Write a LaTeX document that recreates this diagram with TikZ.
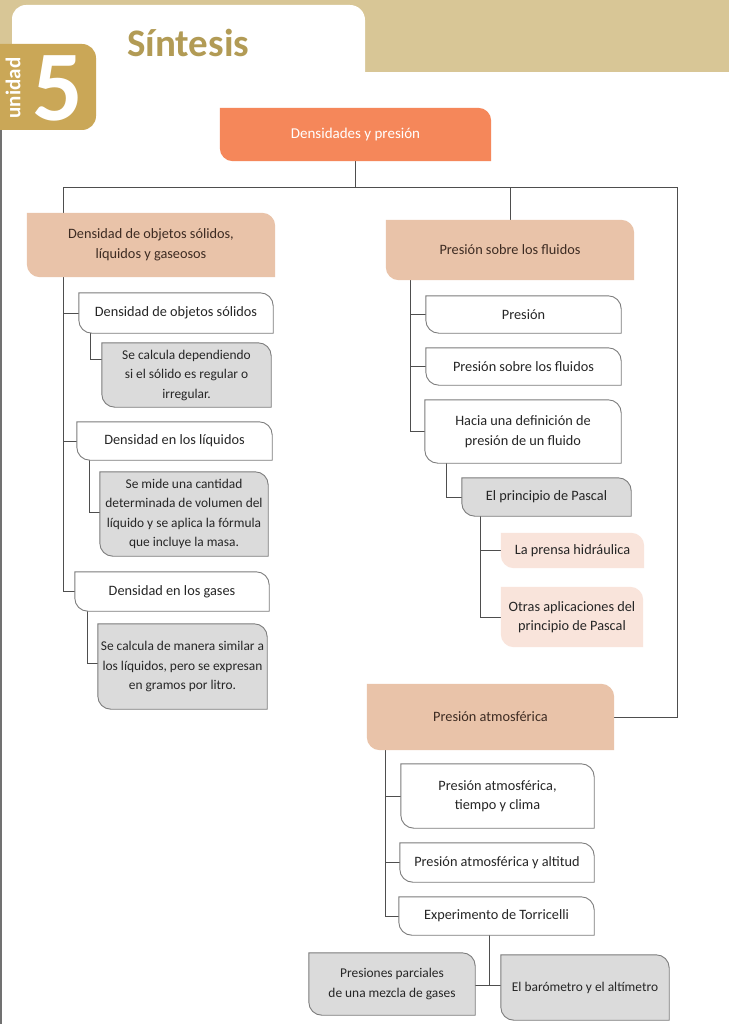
\documentclass[tikz,border=0pt]{standalone}
\usepackage{fontspec}
\setmainfont{Carlito}
\usetikzlibrary{backgrounds}

\definecolor{naranja}{HTML}{F5875A}
\definecolor{melocoton}{HTML}{E9C3A9}
\definecolor{rosado}{HTML}{F9E4DB}
\definecolor{grisfondo}{HTML}{DBDBDB}
\definecolor{borde}{HTML}{7C7C7C}
\definecolor{linea}{HTML}{4E4E4E}
\definecolor{marron}{HTML}{3D2B22}
\definecolor{caqui}{HTML}{D8C696}
\definecolor{dorado}{HTML}{CAA757}
\definecolor{titulo}{HTML}{B29B55}

\newcommand{\rad}{13pt}
% caja: esquinas redondeadas arriba-derecha y abajo-izquierda
\newcommand{\caja}[2]{%
  \path[#1] (#2.north west) -- ([xshift=-\rad]#2.north east)
    arc[start angle=90,end angle=0,radius=\rad] -- (#2.south east)
    -- ([xshift=\rad]#2.south west)
    arc[start angle=270,end angle=180,radius=\rad] -- cycle;}

\tikzset{
  texto/.style={align=center, inner sep=0pt, text=black!85,
    font=\fontsize{14.3}{19.5}\selectfont},
  nota/.style={texto, font=\fontsize{13.4}{19.5}\selectfont},
  conector/.style={draw=linea, line width=0.9pt},
  cajaBlanca/.style={fill=white, draw=borde, line width=0.9pt},
  cajaGris/.style={fill=grisfondo, draw=borde, line width=0.9pt},
  cajaMelocoton/.style={fill=melocoton},
  cajaRosa/.style={fill=rosado},
  cajaNaranja/.style={fill=naranja}
}

\begin{document}
\begin{tikzpicture}[x=1pt,y=1pt]
\useasboundingbox (0,0) rectangle (729,-1024);

% cabecera
\node[text=white, font=\bfseries\fontsize{21}{21}\selectfont, rotate=90] (unidad) at (13,-88) {unidad};
\node[text=white, font=\bfseries\fontsize{100}{100}\selectfont, inner sep=0pt] (cinco) at (58,-88) {5};
\node[text=titulo, font=\bfseries\fontsize{39}{39}\selectfont, anchor=base west, inner sep=0pt] (sintesis) at (127,-57) {Síntesis};

% mapa
\node[texto, text=white, font=\fontsize{15}{18}\selectfont, minimum width=271, minimum height=53] (raiz) at (355.5,-134.5) {Densidades y presión};

\node[texto, text=marron, minimum width=248, minimum height=64] (dens) at (151,-245) {Densidad de objetos sólidos,\\ líquidos y gaseosos};
\node[texto, minimum width=194, minimum height=40] (solidos) at (176,-313) {Densidad de objetos sólidos};
\node[nota, minimum width=169, minimum height=64] (solidosT) at (186.5,-375) {Se calcula dependiendo\\ si el sólido es regular o\\ irregular.};
\node[texto, minimum width=195, minimum height=38] (liquidos) at (174.5,-441) {Densidad en los líquidos};
\node[nota, minimum width=168, minimum height=84] (liquidosT) at (184,-514) {Se mide una cantidad\\ determinada de volumen del\\ líquido y se aplica la fórmula\\ que incluye la masa.};
\node[texto, minimum width=194, minimum height=39] (gases) at (172,-591.5) {Densidad en los gases};
\node[nota, minimum width=169, minimum height=85] (gasesT) at (182.5,-666.5) {Se calcula de manera similar a\\ los líquidos, pero se expresan\\ en gramos por litro.};

\node[texto, text=marron, minimum width=248, minimum height=60] (fluidos) at (510,-250) {Presión sobre los fluidos};
\node[texto, minimum width=195, minimum height=37] (presion) at (523.5,-314.5) {Presión};
\node[texto, minimum width=195, minimum height=37] (sobre) at (523.5,-366.5) {Presión sobre los fluidos};
\node[texto, minimum width=196, minimum height=63] (hacia) at (523,-431.5) {Hacia una definición de\\ presión de un fluido};
\node[texto, minimum width=169, minimum height=38] (pascal) at (546.5,-497) {El principio de Pascal};
\node[texto, minimum width=143, minimum height=35] (prensa) at (572.5,-550.5) {La prensa hidráulica};
\node[texto, minimum width=142, minimum height=60] (otras) at (572,-617) {Otras aplicaciones del\\ principio de Pascal};

\node[texto, text=marron, minimum width=247, minimum height=66] (atm) at (490.5,-717) {Presión atmosférica};
\node[texto, minimum width=193, minimum height=64] (clima) at (497.5,-796) {Presión atmosférica,\\ tiempo y clima};
\node[texto, minimum width=194, minimum height=39] (altitud) at (497,-862.5) {Presión atmosférica y altitud};
\node[texto, minimum width=195, minimum height=38] (torri) at (496.5,-916) {Experimento de Torricelli};
\node[nota, minimum width=166, minimum height=62] (parciales) at (392,-984) {Presiones parciales\\ de una mezcla de gases};
\node[nota, minimum width=168, minimum height=65] (barometro) at (585,-987.5) {El barómetro y el altímetro};

\coordinate (busL) at (63,-187);
\coordinate (busR) at (677,-187);
\coordinate (ejeR) at ([xshift=25]fluidos.south west);
\coordinate (ejeP) at ([xshift=19]pascal.south west);
\coordinate (ejeA) at ([xshift=19]atm.south west);
\coordinate (union) at (489,-985);

\begin{pgfonlayer}{background}
  \fill[white] (0,0) rectangle (729,-1024);
  \fill[caqui] (0,0) rectangle (729,-72);
  \fill[white] (12,-80) -- (12,-19) arc[start angle=180,end angle=90,radius=14]
    -- (350,-5) arc[start angle=90,end angle=0,radius=15] -- (365,-80) -- cycle;
  \fill[dorado] (0,-44) -- (82,-44) arc[start angle=90,end angle=0,radius=14]
    -- (96,-116) arc[start angle=0,end angle=-90,radius=14] -- (0,-130) -- cycle;
  \draw[linea!80, line width=1.5pt] (1,-130) -- (1,-1024);

  % conectores
  \draw[conector] (raiz.south) -- (raiz.south |- busL);
  \draw[conector] (gases.west) -| (busL) -- (busR) |- (atm.east);
  \draw[conector] (fluidos.north) -- (fluidos.north |- busR);
  \draw[conector] (solidos.west) -- (solidos.west -| busL);
  \draw[conector] (liquidos.west) -- (liquidos.west -| busL);
  \draw[conector] ([xshift=12]solidos.south west) |- ([yshift=16]solidosT.west);
  \draw[conector] ([xshift=13]liquidos.south west) |- ([yshift=2]liquidosT.west);
  \draw[conector] ([xshift=13]gases.south west) |- ([yshift=3]gasesT.west);

  \draw[conector] (ejeR) |- (hacia.west);
  \draw[conector] (presion.west) -- (presion.west -| ejeR);
  \draw[conector] (sobre.west) -- (sobre.west -| ejeR);
  \draw[conector] ([xshift=22]hacia.south west) |- (pascal.west);
  \draw[conector] (ejeP) |- (otras.west);
  \draw[conector] (prensa.west) -- (prensa.west -| ejeP);

  \draw[conector] (ejeA) |- (torri.west);
  \draw[conector] (clima.west) -- (clima.west -| ejeA);
  \draw[conector] (altitud.west) -- (altitud.west -| ejeA);
  \draw[conector] (torri.south -| union) -- (union);
  \draw[conector] (parciales.east |- union) -- (barometro.west |- union);

  % cajas
  \caja{cajaNaranja}{raiz}
  \foreach \n in {dens,fluidos,atm} {\caja{cajaMelocoton}{\n}}
  \foreach \n in {solidos,liquidos,gases,presion,sobre,hacia,clima,altitud,torri} {\caja{cajaBlanca}{\n}}
  \foreach \n in {solidosT,liquidosT,gasesT,pascal,parciales,barometro} {\caja{cajaGris}{\n}}
  \foreach \n in {prensa,otras} {\caja{cajaRosa}{\n}}
\end{pgfonlayer}
\end{tikzpicture}
\end{document}
